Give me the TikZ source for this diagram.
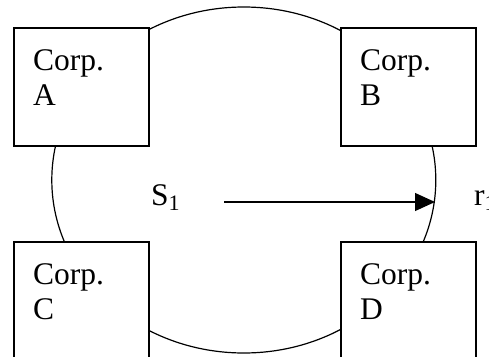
\documentclass[tikz,border=0pt]{standalone}
\usepackage{fontspec}
\setmainfont{Liberation Serif}
\usetikzlibrary{arrows.meta}
\begin{document}
\begin{tikzpicture}[x=1pt,y=-1pt,
  corp/.style={draw, line width=1.6pt, fill=white, minimum width=135pt, minimum height=118pt, inner sep=0pt, anchor=north west},
  lbl/.style={anchor=base west, inner sep=0pt, font=\fontsize{31.5}{36}\selectfont},
  ring/.style={line width=1.2pt}]
\useasboundingbox (0,0) rectangle (489,356);
\clip (0,0) rectangle (489,356);
\draw[ring] (243.8,180) ellipse [x radius=192, y radius=173];
\node[corp] (boxA) at (13,27) {};
\node[corp] (boxB) at (340,27) {};
\node[corp] (boxC) at (13,241) {};
\node[corp] (boxD) at (340,241) {};
\node[lbl] (ta1) at (33,70) {Corp.};
\node[lbl] (ta2) at (33,105) {A};
\node[lbl] (tb1) at (360,70) {Corp.};
\node[lbl] (tb2) at (360,105) {B};
\node[lbl] (tc1) at (33,284) {Corp.};
\node[lbl] (tc2) at (33,319) {C};
\node[lbl] (td1) at (360,284) {Corp.};
\node[lbl] (td2) at (360,319) {D};
\node[lbl] (s1) at (151,205) {S\textsubscript{1}};
\node[lbl] (r1) at (474,205) {r\textsubscript{1}};
\coordinate (as) at (224,202);
\coordinate (ae) at (435,202);
\draw[-{Triangle[length=20pt,width=18pt]}, line width=1.2pt] (as) -- (ae);
\end{tikzpicture}
\end{document}
